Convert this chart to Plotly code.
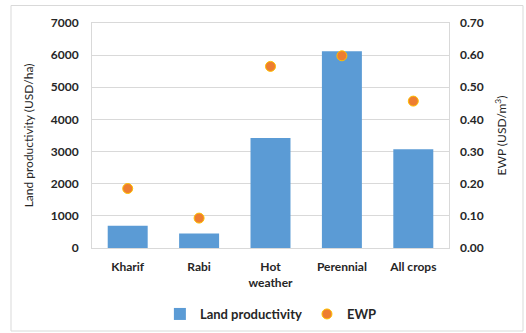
import plotly.graph_objects as go

categories = ["Kharif", "Rabi", "Hot<br>weather", "Perennial", "All crops"]
land_productivity = [690, 450, 3420, 6120, 3070]
ewp = [0.185, 0.093, 0.565, 0.598, 0.457]

left_ticks = [0, 1000, 2000, 3000, 4000, 5000, 6000, 7000]
right_ticks = [0.0, 0.1, 0.2, 0.3, 0.4, 0.5, 0.6, 0.7]

FONT = "Lato"
tick_font = dict(family=FONT, size=12, color="#262626", weight="bold")
title_font = dict(family=FONT, size=12, color="#262626")

fig = go.Figure()
fig.add_trace(go.Bar(
    x=categories, y=land_productivity, name="Land productivity",
    marker=dict(color="#5B9BD5", line=dict(width=0)), yaxis="y",
))
fig.add_trace(go.Scatter(
    x=categories, y=ewp, name="EWP", mode="markers", yaxis="y2",
    marker=dict(color="#ED7D31", size=10, line=dict(color="#FFC000", width=1)),
))

fig.update_layout(
    width=526, height=333,
    margin=dict(l=92, r=77, t=23, b=85, autoexpand=False),
    paper_bgcolor="white", plot_bgcolor="white",
    bargap=0.44,
    showlegend=True,
    legend=dict(orientation="h", x=0.515, xanchor="center", xref="container",
                y=1 - 314 / 333, yanchor="middle", yref="container",
                font=dict(family=FONT, size=13, color="#262626", weight="bold"),
                itemwidth=30, tracegroupgap=0),
    xaxis=dict(tickfont=tick_font, showline=True, linecolor="#D9D9D9", linewidth=1,
               mirror=True, ticks="", showgrid=False, ticklabelstandoff=8,
               automargin=False),
    yaxis=dict(range=[0, 7000], tickvals=left_ticks, ticktext=[str(v) for v in left_ticks],
               tickfont=tick_font, showgrid=True, gridcolor="#D9D9D9", gridwidth=1,
               showline=True, linecolor="#D9D9D9", mirror=True, zeroline=False,
               ticklabelstandoff=10, automargin=False,
               title=dict(text="Land productivity (USD/ha)", font=title_font, standoff=14)),
    yaxis2=dict(range=[0, 0.7], overlaying="y", side="right",
                tickvals=right_ticks, ticktext=[f"{v:.2f}" for v in right_ticks],
                tickfont=tick_font, showgrid=False, zeroline=False,
                ticklabelstandoff=10, automargin=False,
                title=dict(text="EWP (USD/m<sup>3</sup>)", font=title_font, standoff=14)),
)

# outer chart border
fig.add_shape(type="rect", xref="paper", yref="paper",
              x0=(11 - 92) / 357, x1=(523 - 92) / 357,
              y0=-(331 - 248) / 225, y1=1 + (23 - 5.5) / 225,
              line=dict(color="#D9D9D9", width=1), layer="below")

fig.write_html("out.html")
